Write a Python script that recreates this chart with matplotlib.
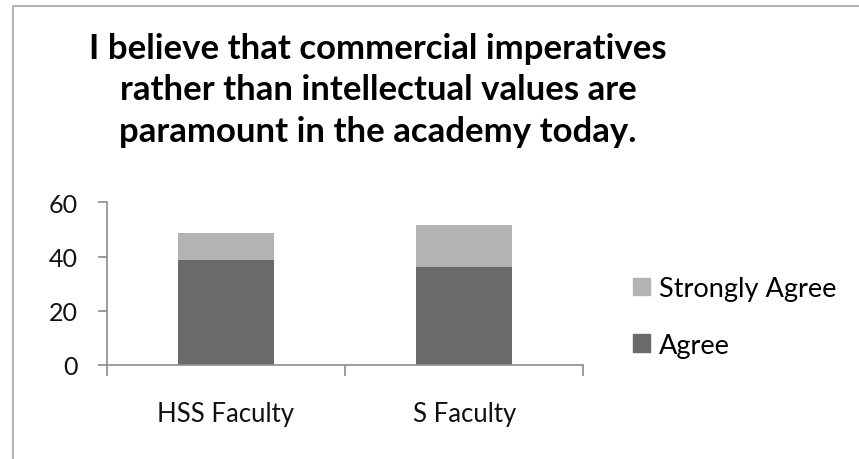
import matplotlib
matplotlib.use("Agg")
import matplotlib.pyplot as plt
from matplotlib.patches import Rectangle, Patch
import numpy as np

plt.rcParams['font.family'] = ['Lato', 'DejaVu Sans']

categories = ["HSS Faculty", "S Faculty"]
agree = [38.7, 36.0]
strongly_agree = [10.1, 15.5]
yticks = [0, 20, 40, 60]
title = "I believe that commercial imperatives\nrather than intellectual values are\nparamount in the academy today."

W, H = 859, 460
fig = plt.figure(figsize=(W / 100, H / 100), dpi=100)

# outer chart frame
fig.patches.append(Rectangle((13 / W, -0.1), 1.2, (1 - 7.3 / H) + 0.1,
                             transform=fig.transFigure, fill=False,
                             edgecolor="#b4b4b4", linewidth=1.5))

ax = fig.add_axes([106.7 / W, 1 - 366 / H, 476.6 / W, 162.7 / H])

x = np.arange(len(categories))
c_agree = "#6a6a6a"
c_strong = "#b3b3b3"
ax.bar(x, agree, width=0.4, color=c_agree, label="Agree")
ax.bar(x, strongly_agree, width=0.4, bottom=agree, color=c_strong, label="Strongly Agree")

ax.set_xlim(-0.5, len(categories) - 0.5)
ax.set_ylim(0, 60)
ax.set_yticks(yticks)
ax.set_xticks(x)
ax.set_xticklabels(categories)
ax.set_xticks(np.arange(len(categories) + 1) - 0.5, minor=True)

for s in ["top", "right"]:
    ax.spines[s].set_visible(False)
for s in ["left", "bottom"]:
    ax.spines[s].set_color("#8c8c8c")
    ax.spines[s].set_linewidth(1.2)

ax.tick_params(axis="y", direction="out", length=6.8, width=1.2, color="#8c8c8c",
               labelsize=18, pad=14, labelcolor="#111111")
ax.tick_params(axis="x", which="major", length=0, labelsize=18.5, pad=26, labelcolor="#111111")
ax.tick_params(axis="x", which="minor", direction="out", length=7.7, width=1.2, color="#8c8c8c")

fig.text(378 / W, 1 - 33 / H, title, ha="center", va="top", fontsize=25,
         fontweight="bold", linespacing=1.36, color="#000000")

handles = [Patch(color=c_strong, label="Strongly Agree"), Patch(color=c_agree, label="Agree")]
fig.legend(handles=handles, loc="center left", bbox_to_anchor=(609 / W, 1 - 318 / H),
           frameon=False, fontsize=19.5, handlelength=0.6, handleheight=0.6,
           handletextpad=0.35, labelspacing=1.15)

fig.savefig("out.png", dpi=100)
